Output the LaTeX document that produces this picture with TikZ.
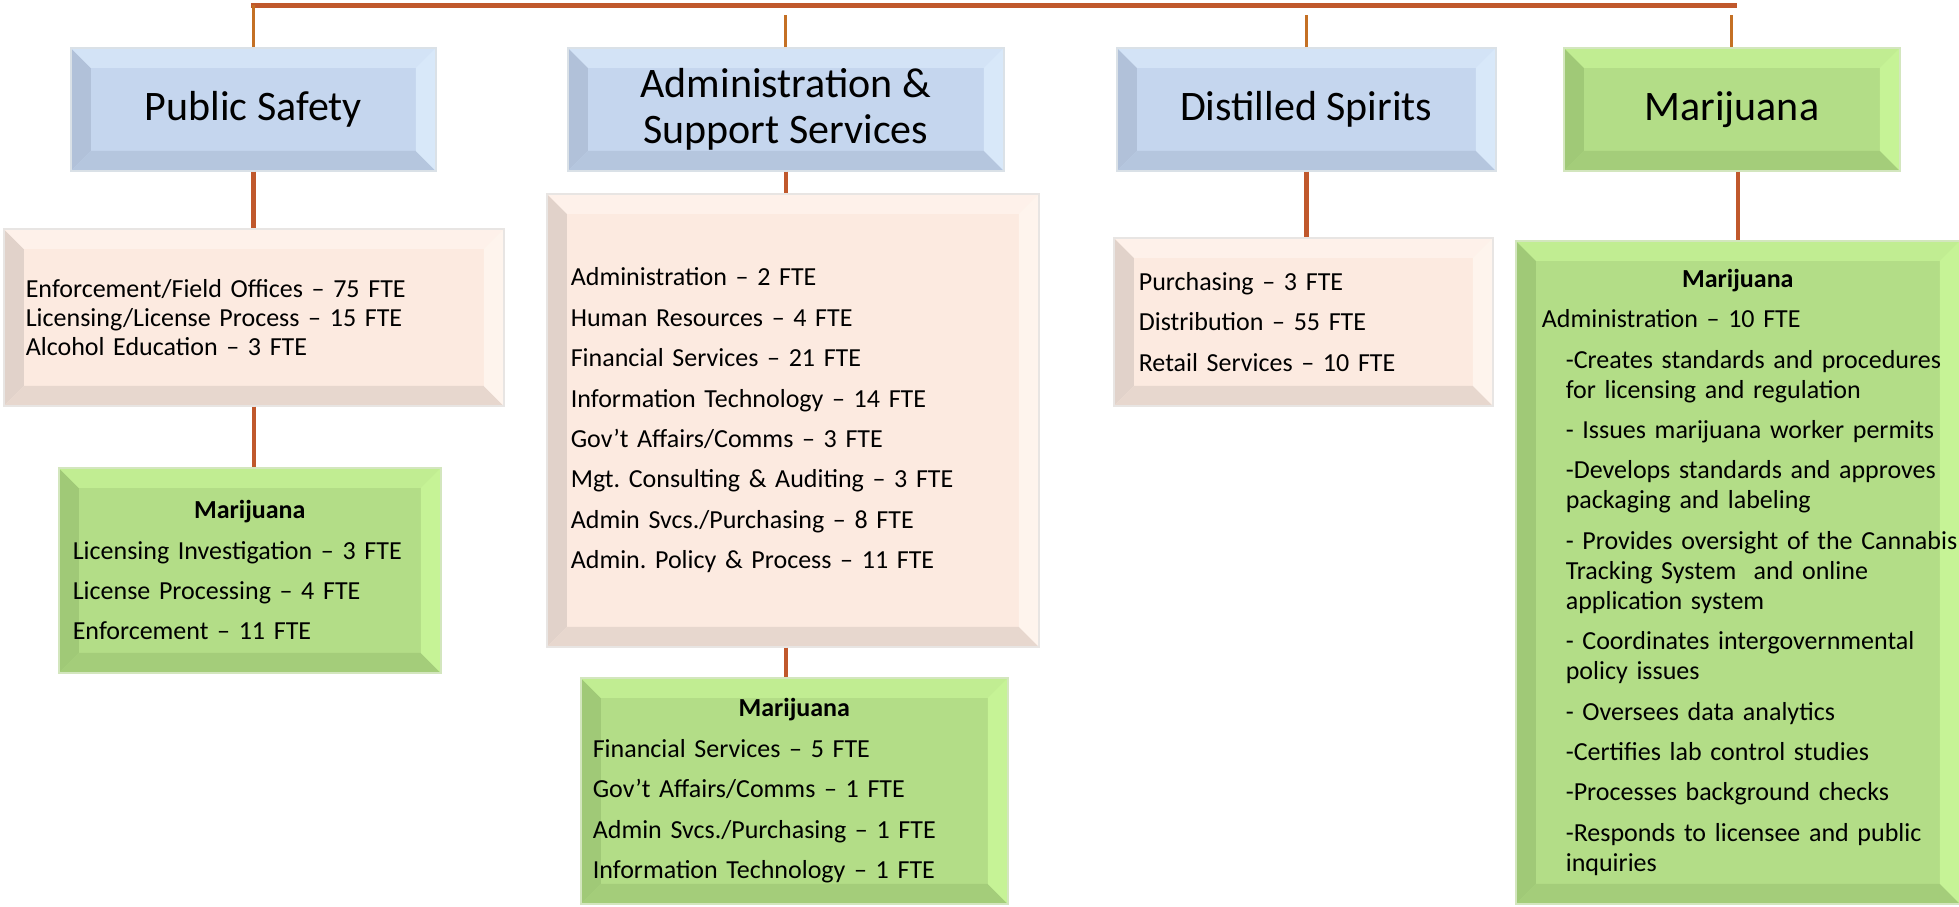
\documentclass[tikz,border=0pt]{standalone}
\usepackage{fontspec}
\setmainfont{Carlito}
\frenchspacing

\definecolor{blueFill}{RGB}{197,214,238}
\definecolor{blueDark}{RGB}{168,184,208}
\definecolor{blueLight}{RGB}{222,238,253}
\definecolor{pinkFill}{RGB}{252,234,224}
\definecolor{pinkDark}{RGB}{214,200,192}
\definecolor{pinkLight}{RGB}{255,247,242}
\definecolor{greenFill}{RGB}{179,221,135}
\definecolor{greenDark}{RGB}{152,192,112}
\definecolor{greenLight}{RGB}{204,250,155}
\definecolor{linkRed}{RGB}{192,88,44}
\definecolor{dropOrange}{RGB}{196,112,36}

\newcommand{\ind}{\hspace*{12pt}}
\newcommand{\mjHead}{\makebox[\linewidth]{\textbf{Marijuana}}}

\tikzset{
  bevel/.style n args={3}{rectangle, anchor=north west, inner ysep=0pt,
    fill=#1, draw=#3!70!gray!60, line width=0.8pt,
    path picture={
      \coordinate (bSW) at (path picture bounding box.south west);
      \coordinate (bNW) at (path picture bounding box.north west);
      \coordinate (bNE) at (path picture bounding box.north east);
      \coordinate (bSE) at (path picture bounding box.south east);
      \fill[#2!70!#1] (bSW) -- (bNW) -- ([shift={(10pt,-10pt)}]bNW) -- ([shift={(10pt,10pt)}]bSW) -- cycle;
      \fill[#2!55!#1] (bSW) -- (bSE) -- ([shift={(-10pt,10pt)}]bSE) -- ([shift={(10pt,10pt)}]bSW) -- cycle;
      \fill[#3!55!#1] (bNW) -- (bNE) -- ([shift={(-10pt,-10pt)}]bNE) -- ([shift={(10pt,-10pt)}]bNW) -- cycle;
      \fill[#3!75!#1] (bNE) -- (bSE) -- ([shift={(-10pt,10pt)}]bSE) -- ([shift={(-10pt,-10pt)}]bNE) -- cycle;
    }},
  title/.style={bevel={blueFill}{blueDark}{blueLight}, inner xsep=0pt, align=center,
    minimum height=61.5pt, font=\fontsize{21}{23}\selectfont},
  pinkList/.style={bevel={pinkFill}{pinkDark}{pinkLight}, align=left,
    font=\fontsize{13}{20.2}\selectfont},
  greenList/.style={bevel={greenFill}{greenDark}{greenLight}, align=left,
    font=\fontsize{13}{20.2}\selectfont},
  bus/.style={draw=linkRed, line width=2.5pt},
  drop/.style={draw=dropOrange, line width=1.5pt},
  link/.style={draw=linkRed, line width=2.2pt}
}

\begin{document}
\begin{tikzpicture}[x=0.5pt,y=-0.5pt]
	\useasboundingbox (0,0) rectangle (1959,906);
	% top row
	\node[title, minimum width=182.5pt] (ps) at (70,47) {Public Safety};
	\node[title, minimum width=218pt] (adm) at (567,47) {Administration \&\\Support Services};
	\node[title, minimum width=189.5pt] (dsp) at (1116,47) {Distilled Spirits};
	\node[title, bevel={greenFill}{greenDark}{greenLight}, minimum width=168pt] (mj) at (1563,47) {Marijuana};
	% the line on top
	\coordinate (busL) at (251,5);
	\coordinate (busR) at (1737,5);
	\coordinate (busGap) at (0,15);
	\draw[bus] (busL) -- (busR);
	\draw[drop] (ps.north) -- (ps.north |- busL);
	\draw[drop] (adm.north) -- (adm.north |- busGap);
	\draw[drop] (dsp.north) -- (dsp.north |- busGap);
	\draw[drop] (mj.north) -- (mj.north |- busGap);
	% public safety
	\node[pinkList, font=\fontsize{13}{14.5}\selectfont, inner xsep=11pt, text width=228pt, minimum height=88.5pt] (psList) at (3,228)
		{Enforcement/Field Offices – 75 FTE\\Licensing/License Process – 15 FTE\\Alcohol Education – 3 FTE};
	\node[greenList, inner xsep=7pt, text width=177pt, minimum height=102.5pt] (psMj) at (58,467)
		{\mjHead\\Licensing Investigation – 3 FTE\\License Processing – 4 FTE\\Enforcement – 11 FTE};
	\draw[link] (ps.south) -- (ps.south |- psList.north);
	\draw[link] (psList.south) -- (psList.south |- psMj.north);
	% administration
	\node[pinkList, inner xsep=12pt, text width=222pt, minimum height=226.5pt] (admList) at (546,193)
		{Administration – 2 FTE\\Human Resources – 4 FTE\\Financial Services – 21 FTE\\Information Technology – 14 FTE\\Gov’t Affairs/Comms – 3 FTE\\Mgt. Consulting \& Auditing – 3 FTE\\Admin Svcs./Purchasing – 8 FTE\\Admin. Policy \& Process – 11 FTE};
	\node[greenList, inner xsep=6pt, text width=201.5pt, minimum height=113pt] (admMj) at (580,677)
		{\mjHead\\Financial Services – 5 FTE\\Gov’t Affairs/Comms – 1 FTE\\Admin Svcs./Purchasing – 1 FTE\\Information Technology – 1 FTE};
	\draw[link] (adm.south) -- (adm.south |- admList.north);
	\draw[link] (adm.south |- admList.south) -- (adm.south |- admMj.north);
	% distilled spirits
	\node[pinkList, inner xsep=12.5pt, text width=164.5pt, minimum height=84pt] (dspList) at (1113,237)
		{Purchasing – 3 FTE\\Distribution – 55 FTE\\Retail Services – 10 FTE};
	\draw[link] (dsp.south) -- (dsp.south |- dspList.north);
	% marijuana
	\node[greenList, font=\fontsize{13}{15}\selectfont, inner xsep=13pt, text width=196pt, minimum height=331.5pt] (mjList) at (1515,240)
		{\mjHead\\[5.2pt]
		Administration – 10 FTE\\[5.2pt]
		\ind\mbox{-Creates standards and procedures}\\
		\ind\mbox{for licensing and regulation}\\[5.2pt]
		\ind\mbox{- Issues marijuana worker permits}\\[5.2pt]
		\ind\mbox{-Develops standards and approves}\\
		\ind\mbox{packaging and labeling}\\[5.2pt]
		\ind\mbox{- Provides oversight of the Cannabis}\\
		\ind\mbox{Tracking System\ \ and online}\\
		\ind\mbox{application system}\\[5.2pt]
		\ind\mbox{- Coordinates intergovernmental}\\
		\ind\mbox{policy issues}\\[5.2pt]
		\ind\mbox{- Oversees data analytics}\\[5.2pt]
		\ind\mbox{-Certifies lab control studies}\\[5.2pt]
		\ind\mbox{-Processes background checks}\\[5.2pt]
		\ind\mbox{-Responds to licensee and public}\\
		\ind\mbox{inquiries}};
	\draw[link] (mjList.north |- mj.south) -- (mjList.north);
\end{tikzpicture}
\end{document}
